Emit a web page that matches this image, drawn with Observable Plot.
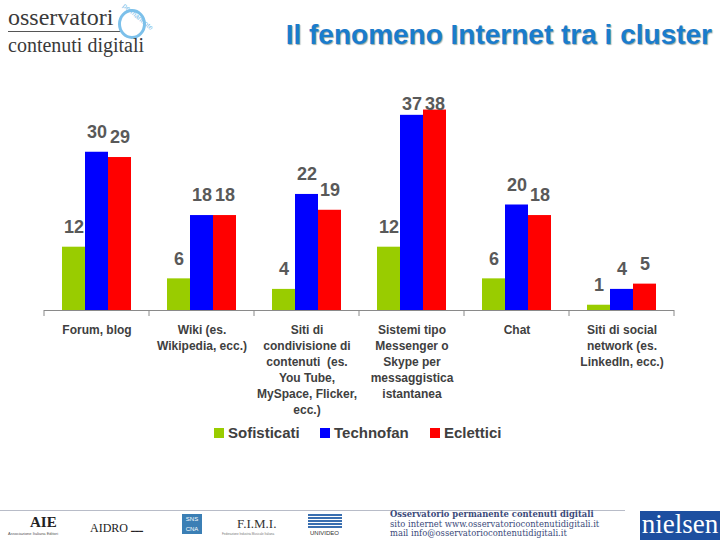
<!DOCTYPE html>
<html>
<head>
<meta charset="utf-8">
<script src="https://cdn.jsdelivr.net/npm/d3@7"></script>
<script src="https://cdn.jsdelivr.net/npm/@observablehq/plot@0.6"></script>
<style>
  html, body { margin: 0; padding: 0; background: #fff; }
  #page { position: relative; width: 720px; height: 540px; overflow: hidden; font-family: "Liberation Sans", Arial, sans-serif; }
  .abs { position: absolute; white-space: nowrap; }
  #title { right: 8px; top: 19px; font-size: 28px; font-weight: bold; color: #1a7ccc; text-shadow: 1px 1px 1px #9aa; }
  .leg { top: 424px; font-size: 15px; font-weight: bold; color: #404040; }
  .sw { display: inline-block; width: 10px; height: 10px; margin-right: 4px; vertical-align: 0px; }
</style>
</head>
<body>
<div id="page">
  <div id="chart" class="abs" style="left:0;top:0"></div>

  <!-- logo -->
  <div class="abs" style="left:8px;top:4px;font-family:'Liberation Serif',serif;font-size:24px;color:#3a3a3a;">osservatori</div>
  <div class="abs" style="left:8px;top:31px;width:112px;height:1px;background:#555"></div>
  <div class="abs" style="left:118px;top:9px;width:22px;height:24px;border:3px solid #7cc0ea;border-radius:50%"></div>
  <div class="abs" style="left:126px;top:2px;font-size:7px;color:#7cc0ea;transform:rotate(40deg);transform-origin:left top;">permanente</div>
  <div class="abs" style="left:8px;top:34px;font-family:'Liberation Serif',serif;font-size:20px;color:#3a3a3a;">contenuti digitali</div>

  <div id="title" class="abs">Il fenomeno Internet tra i cluster</div>

  <!-- legend -->
  <div class="abs leg" style="left:214px"><span class="sw" style="background:#99CC00"></span>Sofisticati</div>
  <div class="abs leg" style="left:320px"><span class="sw" style="background:#0000FF"></span>Technofan</div>
  <div class="abs leg" style="left:430px"><span class="sw" style="background:#FF0000"></span>Eclettici</div>

  <!-- footer -->
  <div class="abs" style="left:0;top:510px;width:625px;height:1px;background:#b8bcc8"></div>
  <div class="abs" style="left:30px;top:514px;font-family:'Liberation Serif',serif;font-size:15px;font-weight:bold;color:#222">AIE</div>
  <div class="abs" style="left:8px;top:531px;font-size:4px;color:#555">Associazione Italiana Editori</div>
  <div class="abs" style="left:90px;top:521px;font-family:'Liberation Serif',serif;font-size:12px;color:#222">AIDRO <span style="font-size:4px">▬▬▬</span></div>
  <div class="abs" style="left:182px;top:514px;width:20px;height:20px;background:#3b7fb5;color:#fff;font-size:6px;text-align:center;line-height:10px">SNS<br>CNA</div>
  <div class="abs" style="left:237px;top:516px;font-family:'Liberation Serif',serif;font-size:13px;color:#333">F.I.M.I.</div>
  <div class="abs" style="left:222px;top:532px;font-size:3px;color:#777">Federazione Industria Musicale Italiana</div>
  <div class="abs" style="left:308px;top:514px;width:34px;height:14px;background:repeating-linear-gradient(#3a6fb0 0 2px,#fff 2px 3px)"></div>
  <div class="abs" style="left:310px;top:530px;font-size:6px;color:#333">UNIVIDEO</div>
  <div class="abs" style="left:390px;top:510px;font-family:'DejaVu Serif',serif;font-size:8.4px;line-height:9.5px;color:#3b4a7a">
    <b>Osservatorio permanente contenuti digitali</b><br>
    sito internet www.osservatoriocontenutidigitali.it<br>
    mail info@osservatoriocontenutidigitali.it
  </div>
  <div class="abs" style="left:640px;top:511px;width:80px;height:29px;background:#1d4fa0;color:#fff;font-family:'Liberation Serif',serif;font-size:27px;line-height:27px;text-align:center">nielsen</div>
</div>
<script>
const categories = [
  "Forum, blog",
  "Wiki (es.\nWikipedia, ecc.)",
  "Siti di\ncondivisione di\ncontenuti  (es.\nYou Tube,\nMySpace, Flicker,\necc.)",
  "Sistemi tipo\nMessenger o\nSkype per\nmessaggistica\nistantanea",
  "Chat",
  "Siti di social\nnetwork (es.\nLinkedIn, ecc.)"
];
const series = ["Sofisticati", "Technofan", "Eclettici"];
const sofisticati = [12, 6, 4, 12, 6, 1];
const technofan = [30, 18, 22, 37, 20, 4];
const eclettici = [29, 18, 19, 38, 18, 5];
const colors = ["#99CC00", "#0000FF", "#FF0000"];

const values = [sofisticati, technofan, eclettici];
const data = categories.flatMap((c, i) =>
  series.map((s, j) => ({cat: c, series: s, value: values[j][i]}))
);

// Excel keeps data labels inside the plot area
const labelCap = 35.3;

const chart = Plot.plot({
  width: 720,
  height: 540,
  marginLeft: 43,
  marginRight: 45,
  marginTop: 99,
  marginBottom: 230,
  style: {background: "transparent", fontFamily: "'Liberation Sans', Arial, sans-serif"},
  fx: {domain: categories, padding: 0, axis: null},
  x: {domain: series, paddingInner: 0, paddingOuter: 0.74, axis: null},
  y: {domain: [0, 40], axis: null},
  color: {domain: series, range: colors},
  marks: [
    Plot.barY(data, {fx: "cat", x: "series", y: "value", fill: "series"}),
    Plot.ruleY([0], {stroke: "#8a8a8a", strokeWidth: 1}),
    Plot.text(data, {
      fx: "cat", x: "series",
      y: d => Math.min(d.value, labelCap),
      text: d => String(d.value),
      dy: -20,
      fontSize: 18, fontWeight: "bold", fill: "#595959"
    }),
    Plot.text(categories, {
      fx: d => d,
      text: d => d,
      frameAnchor: "bottom",
      lineAnchor: "top",
      lineHeight: 1.33,
      dy: 12,
      fontSize: 12, fontWeight: "bold", fill: "#404040"
    })
  ]
});

document.getElementById("chart").appendChild(chart);

// category boundary tick marks on the axis
const fx = chart.scale("fx");
const y = chart.scale("y");
const y0 = y.apply(0);
const edges = categories.map(c => fx.apply(c)).concat([fx.apply(categories[categories.length - 1]) + fx.bandwidth]);
d3.select(chart).append("g")
  .attr("stroke", "#8a8a8a")
  .selectAll("line")
  .data(edges)
  .join("line")
  .attr("x1", d => d).attr("x2", d => d)
  .attr("y1", y0).attr("y2", y0 + 6);
</script>
</body>
</html>
